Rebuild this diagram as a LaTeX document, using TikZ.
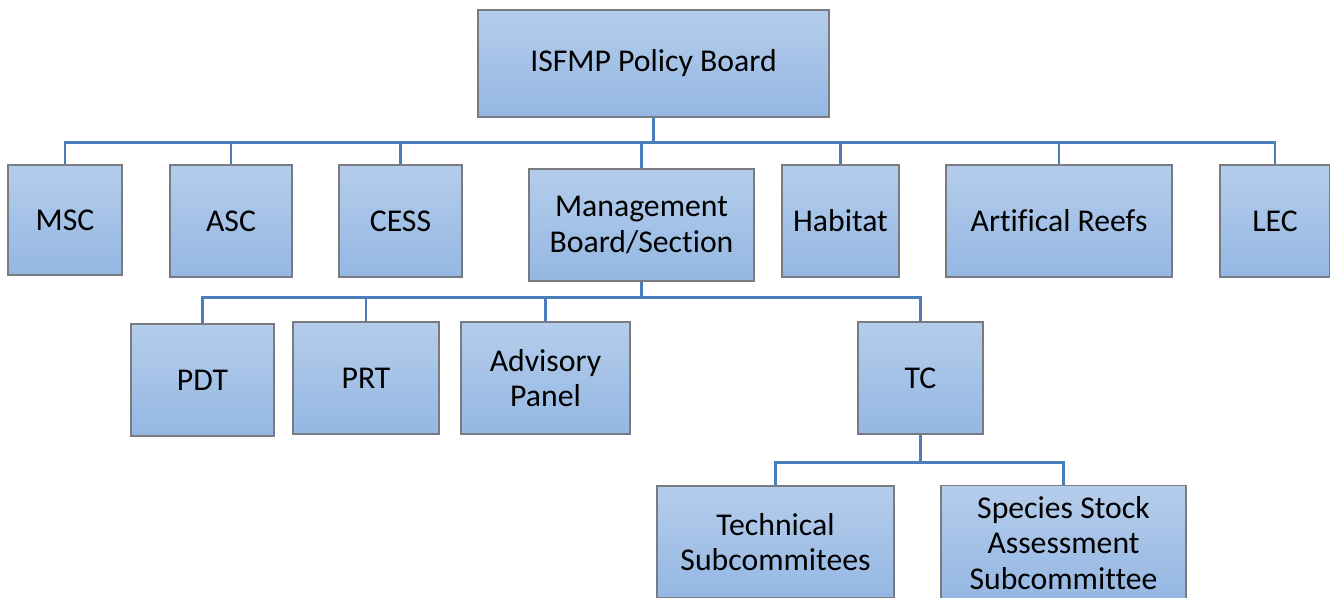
\documentclass[tikz,border=0pt]{standalone}
\usepackage{fontspec}
\setmainfont{Carlito}[Ligatures=CommonOff]
\definecolor{boxtop}{RGB}{181,205,235}
\definecolor{boxbot}{RGB}{148,183,227}
\definecolor{boxline}{RGB}{120,124,130}
\definecolor{linkblue}{RGB}{74,126,187}
\tikzset{
  box/.style={draw=boxline, line width=1.1pt, top color=boxtop, bottom color=boxbot,
    align=center, inner sep=2pt, font=\fontsize{23.8}{26.5}\selectfont},
  link/.style={draw=linkblue, line width=2pt}
}
\begin{document}
\begin{tikzpicture}[x=0.75pt, y=-0.75pt]
    \useasboundingbox (0,0) rectangle (1330,597);
    \clip (0,0) rectangle (1330,597);
    % top level
    \node[box, minimum width=263pt, minimum height=80pt] (pb) at (653.5,63.5) {ISFMP Policy Board};
    % committees under the board
    \node[box, minimum width=85.5pt, minimum height=82.5pt] (msc) at (65,220) {MSC};
    \node[box, minimum width=91.5pt, minimum height=84pt] (asc) at (231,221) {ASC};
    \node[box, minimum width=92.25pt, minimum height=84pt] (cess) at (400.5,221) {CESS};
    \node[box, minimum width=168.75pt, minimum height=84pt] (mbs) at (641.5,225) {Management\\Board/Section};
    \node[box, minimum width=87.75pt, minimum height=84pt] (hab) at (840.5,221) {Habitat};
    \node[box, minimum width=169.5pt, minimum height=84pt] (reef) at (1059,221) {Artifical Reefs};
    \node[box, minimum width=82.5pt, minimum height=84pt] (lec) at (1275,221) {LEC};
    % under the management board
    \node[box, minimum width=107.25pt, minimum height=84pt] (pdt) at (202.5,380) {PDT};
    \node[box, minimum width=109.5pt, minimum height=84pt] (prt) at (366,378) {PRT};
    \node[box, minimum width=126.75pt, minimum height=84pt] (ap) at (545.5,378) {Advisory\\Panel};
    \node[box, minimum width=93.75pt, minimum height=84pt] (tc) at (920.5,378) {TC};
    % under the TC
    \node[box, minimum width=177.75pt, minimum height=84pt] (tsc) at (775.5,542) {Technical\\Subcommitees};
    \node[box, minimum width=183.75pt, minimum height=86pt] (ssa) at (1063.5,543) {Species Stock\\Assessment\\Subcommittee};
    % connectors
    \foreach \c in {msc,asc,cess,mbs,hab,reef,lec}
      \draw[link] (pb.south) -- ++(0,25) -| (\c.north);
    \foreach \c in {pdt,prt,ap,tc}
      \draw[link] (mbs.south) -- ++(0,16) -| (\c.north);
    \foreach \c in {tsc,ssa}
      \draw[link] (tc.south) -- ++(0,28) -| (\c.north);
  \end{tikzpicture}
\end{document}
